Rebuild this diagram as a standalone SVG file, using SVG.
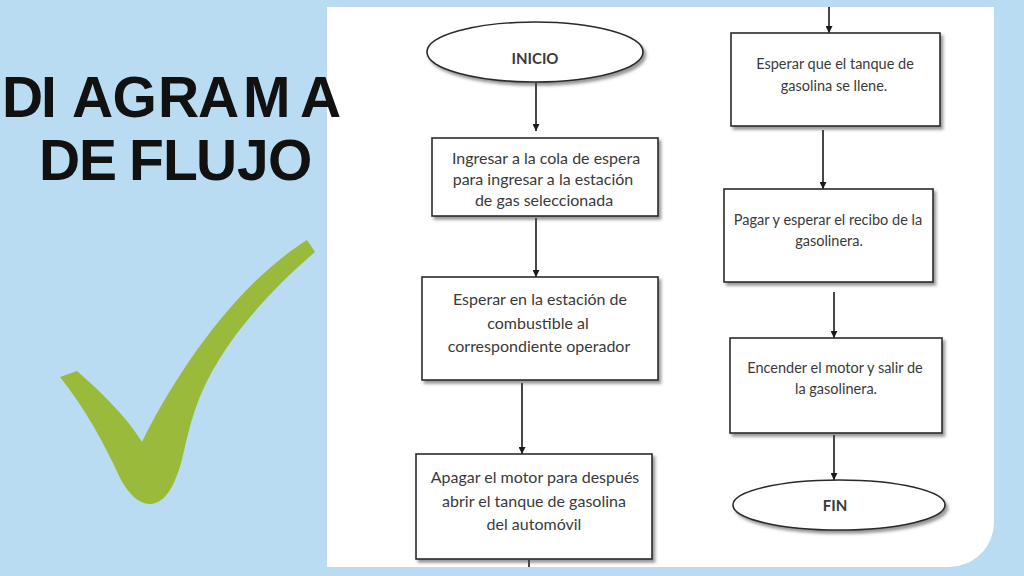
<svg xmlns="http://www.w3.org/2000/svg" width="1024" height="576" viewBox="0 0 1024 576">
<defs>
<style>
.bg{fill:#badcf3}
.panel{fill:#ffffff}
.title{font-family:"Liberation Sans",Arial,sans-serif;font-weight:bold;font-size:57px;fill:#111111}
.box{fill:#ffffff;stroke:#2a2a2a;stroke-width:1.6}
.lbl{font-family:Lato,"Open Sans",sans-serif;font-size:16px;fill:#3a3a3a;text-anchor:middle}
.lbr{font-family:Lato,"Open Sans",sans-serif;font-size:14.5px;fill:#3a3a3a;text-anchor:middle}
.term{font-family:Lato,"Open Sans",sans-serif;font-size:15px;font-weight:bold;fill:#3a3a3a;text-anchor:middle}
.edge{stroke:#1a1a1a;stroke-width:1.6;fill:none}
.check{fill:#9aba3c}
</style>
<filter id="sh" x="-10%" y="-10%" width="125%" height="130%">
<feDropShadow dx="2.5" dy="3" stdDeviation="1.6" flood-color="#444444" flood-opacity="0.55"/>
</filter>
<marker id="arr" viewBox="0 0 10 10" refX="10" refY="5" markerWidth="7" markerHeight="7" markerUnits="userSpaceOnUse" orient="auto">
<path d="M0,0 L10,5 L0,10 Z" fill="#1a1a1a"/>
</marker>
</defs>

<rect class="bg" x="0" y="0" width="1024" height="576"/>
<path class="panel" d="M327,7 H994 V522 A45,45 0 0 1 949,567 H327 Z"/>

<g id="title">
<text class="title" x="2 41 55 72 112.5 158 198 243 300" y="117">DI AGRAMA</text>
<text class="title" x="39 79 115 129 163 196 237 268" y="180">DE FLUJO</text>
</g>

<g id="checkmark">
<path class="check" d="M60,377 L77,371 C102,393 125,415 142,442 C175,375 235,285 307,240 L315,252 C265,295 215,350 195,410 C185,440 183,462 177,475 C170,495 160,504 150,504 C138,504 128,493 120,478 C105,445 85,408 60,377 Z"/>
</g>

<g id="connectors">
<line class="edge" x1="536" y1="83" x2="536" y2="131" marker-end="url(#arr)"/>
<line class="edge" x1="536" y1="218" x2="536" y2="277" marker-end="url(#arr)"/>
<line class="edge" x1="522" y1="383" x2="522" y2="454" marker-end="url(#arr)"/>
<line class="edge" x1="529" y1="560" x2="529" y2="567"/>
<line class="edge" x1="829" y1="7" x2="829" y2="33" marker-end="url(#arr)"/>
<line class="edge" x1="823" y1="130" x2="823" y2="189" marker-end="url(#arr)"/>
<line class="edge" x1="834" y1="292" x2="834" y2="338" marker-end="url(#arr)"/>
<line class="edge" x1="834" y1="435" x2="834" y2="480" marker-end="url(#arr)"/>
</g>

<g id="inicio">
<ellipse class="box" filter="url(#sh)" cx="535" cy="52" rx="108" ry="30"/>
<text class="term" x="535" y="64">INICIO</text>
</g>

<g id="paso1">
<rect class="box" filter="url(#sh)" x="432" y="138" width="226" height="78"/>
<text class="lbl" x="546" y="164">Ingresar a la cola de espera</text>
<text class="lbl" x="543" y="185">para ingresar a la estación</text>
<text class="lbl" x="544" y="206">de gas seleccionada</text>
</g>

<g id="paso2">
<rect class="box" filter="url(#sh)" x="422" y="277" width="236" height="103"/>
<text class="lbl" x="540" y="305">Esperar en la estación de</text>
<text class="lbl" x="538" y="329">combustible al</text>
<text class="lbl" x="539" y="352">correspondiente operador</text>
</g>

<g id="paso3">
<rect class="box" filter="url(#sh)" x="416" y="454" width="236" height="105"/>
<text class="lbl" x="535" y="483">Apagar el motor para después</text>
<text class="lbl" x="534" y="507">abrir el tanque de gasolina</text>
<text class="lbl" x="534" y="530">del automóvil</text>
</g>

<g id="paso4">
<rect class="box" filter="url(#sh)" x="731" y="33" width="209" height="93"/>
<text class="lbr" x="835" y="69">Esperar que el tanque de</text>
<text class="lbr" x="834" y="91">gasolina se llene.</text>
</g>

<g id="paso5">
<rect class="box" filter="url(#sh)" x="724" y="189" width="209" height="93"/>
<text class="lbr" x="828" y="225">Pagar y esperar el recibo de la</text>
<text class="lbr" x="829" y="246">gasolinera.</text>
</g>

<g id="paso6">
<rect class="box" filter="url(#sh)" x="730" y="338" width="212" height="95"/>
<text class="lbr" x="835" y="373">Encender el motor y salir de</text>
<text class="lbr" x="836" y="394">la gasolinera.</text>
</g>

<g id="fin">
<ellipse class="box" filter="url(#sh)" cx="839" cy="505" rx="106" ry="25"/>
<text class="term" x="835" y="511">FIN</text>
</g>
</svg>
